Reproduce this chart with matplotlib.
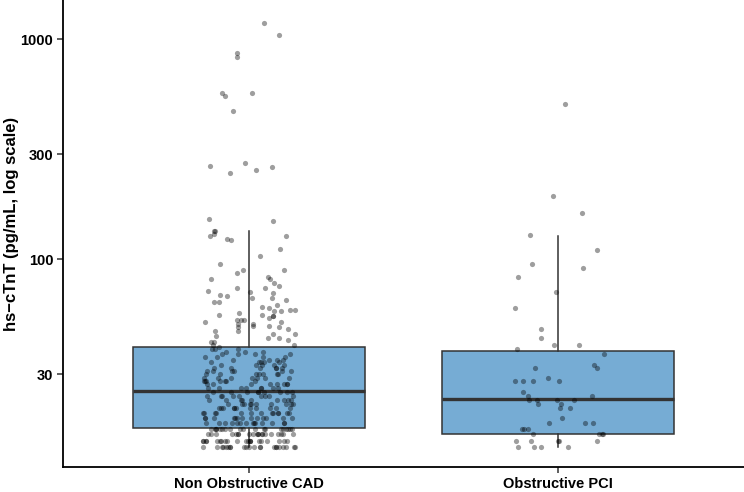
import numpy as np
import matplotlib
matplotlib.use('Agg')
from matplotlib import pyplot as plt
from matplotlib.ticker import FixedLocator, NullLocator

groups = ['Non Obstructive CAD', 'Obstructive PCI']

# box stats (pg/mL)
q1 = [17.1, 16.1]
med = [25.1, 23.2]
q3 = [39.8, 38.3]
whislo = [14, 14]
whishi = [134.5, 128]

# Non Obstructive CAD: low values come as integer counts, upper values one by one
cad_low_vals = [14, 15, 16, 17, 18, 19, 20, 21, 22, 23, 24, 25, 26, 27, 28, 29, 30,
                31, 32, 33, 34, 35, 36, 37, 38, 39]
cad_low_counts = [22, 21, 20, 19, 14, 13, 13, 11, 10, 9, 9, 9, 8, 8, 7, 7, 7,
                  6, 6, 5, 5, 4, 4, 4, 3, 3]
cad_high = [1183, 1046, 864, 828, 572, 572, 551, 474, 273, 265, 262, 255, 248, 152, 150,
            135, 134, 131, 128, 127, 124, 122, 112, 104, 95, 89, 89, 87, 83, 81, 81, 78,
            76, 74, 74, 72, 71, 70, 69, 68, 67, 67, 65, 64, 64, 62, 61, 60, 59, 59, 58,
            58, 57, 56, 56, 55, 55, 54, 53, 53, 53, 52, 52, 51, 51, 50, 50, 49, 49, 48,
            47, 47, 46, 46, 45, 44, 44, 43, 42, 42, 41, 41, 40]

pci_vals = [506, 194, 163, 129, 110, 95, 91, 83, 71, 60, 48, 44, 41, 41, 39, 37,
            33, 32, 32, 29, 28, 28, 28, 28, 25, 24, 24, 23, 23, 23, 23, 22, 22,
            21, 21, 19, 18, 18, 18, 17, 17, 17, 16, 16, 16, 16,
            15, 15, 15, 15, 15, 14, 14, 14, 14]

cad_vals = np.concatenate([np.repeat(cad_low_vals, cad_low_counts), cad_high])

fig = plt.figure(figsize=(7.44, 4.92), dpi=100)
ax = fig.add_axes([63 / 744, 25 / 492, 681 / 744, 467 / 492])

stats = []
for i in range(2):
    stats.append(dict(label=groups[i], q1=q1[i], med=med[i], q3=q3[i],
                      whislo=whislo[i], whishi=whishi[i], fliers=[]))

edge = '#333333'
ax.bxp(stats, positions=[1, 2], widths=0.75, patch_artist=True, showcaps=False,
       showfliers=False,
       boxprops=dict(facecolor='#76acd4', edgecolor=edge, linewidth=1.1),
       whiskerprops=dict(color=edge, linewidth=1.1),
       medianprops=dict(color=edge, linewidth=2.4, solid_capstyle='butt'),
       zorder=1)

# jitter (horizontal only)
rng = np.random.default_rng(7)
for pos, vals in zip([1, 2], [cad_vals, np.array(pci_vals)]):
    xj = pos + rng.uniform(-0.15, 0.15, len(vals))
    ax.scatter(xj, vals, s=14, color='black', alpha=0.38, linewidths=0, zorder=3)

ax.set_yscale('log')
ax.set_ylim(11.38, 1509)
ax.set_xlim(0.4, 2.6)
ax.yaxis.set_major_locator(FixedLocator([30, 100, 300, 1000]))
ax.yaxis.set_minor_locator(NullLocator())
ax.set_yticklabels(['30', '100', '300', '1000'])
ax.set_xticks([1, 2])
ax.set_xticklabels(groups)

for s in ['top', 'right']:
    ax.spines[s].set_visible(False)
for s in ['left', 'bottom']:
    ax.spines[s].set_linewidth(1.3)
    ax.spines[s].set_color('black')

ax.tick_params(axis='both', length=4, width=1.1, color='#333333', pad=3)
for lab in ax.get_xticklabels() + ax.get_yticklabels():
    lab.set_fontfamily('Liberation Sans')
    lab.set_fontweight('bold')
    lab.set_fontsize(10.5)
    lab.set_color('black')

ax.set_ylabel('hs\u2212cTnT (pg/mL, log scale)', fontfamily='Liberation Sans',
              fontweight='bold', fontsize=12)
ax.yaxis.set_label_coords(-0.064, 0.52)

fig.savefig('out.png', dpi=100)
